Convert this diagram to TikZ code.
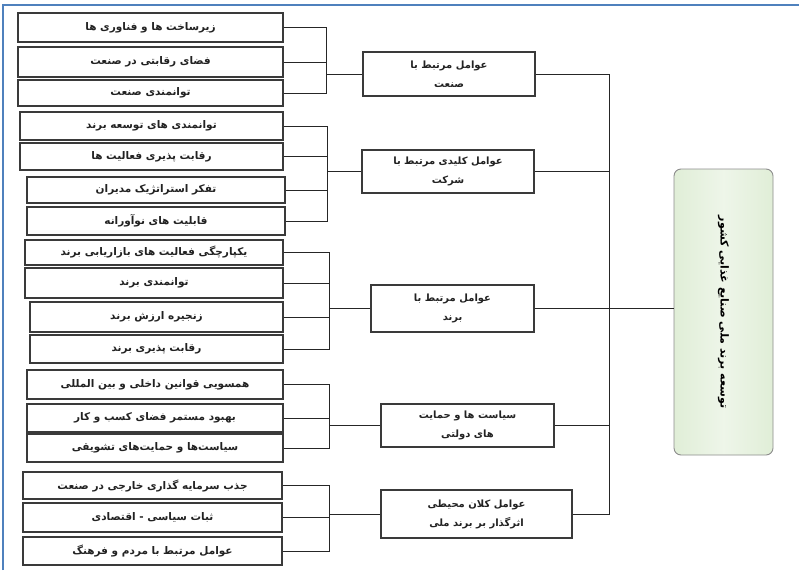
\documentclass[tikz,border=0pt]{standalone}
\usepackage{fontspec}
\newfontfamily\farsi[Script=Arabic]{DejaVu Sans}
\TeXXeTstate=1
\newcommand{\fa}[1]{\beginR #1\endR}
\definecolor{framblue}{HTML}{4F81BD}
\definecolor{boxline}{HTML}{3A3A3A}
\definecolor{txtgray}{HTML}{222222}
\definecolor{rgreen}{HTML}{E0EED7}
\tikzset{
  lbox/.style={draw=boxline, line width=1.1pt, fill=white, inner sep=0pt, text=txtgray, font=\farsi\bfseries\fontsize{10.5}{12}\selectfont},
  mbox/.style={draw=boxline, line width=1.1pt, fill=white, inner sep=0pt, text=txtgray, align=center, font=\farsi\bfseries\fontsize{10}{19}\selectfont},
  rbox/.style={draw=black!45, line width=0.9pt, rounded corners=7pt, inner sep=0pt, left color=rgreen, right color=rgreen, middle color=rgreen!55},
  conn/.style={draw=black!85, line width=0.8pt}
}
\begin{document}
\begin{tikzpicture}[x=1pt,y=-1pt]
\useasboundingbox (0,0) rectangle (799,570);
\fill[white] (0,0) rectangle (799,570);
% blue frame
\draw[framblue, line width=1.6pt] (3,570) -- (3,5) -- (799,5);

% group 1
\node[lbox, minimum width=265pt, minimum height=29pt] (a1) at (150.5,27.5) {\fa{زیرساخت ها و فناوری ها}};
\node[lbox, minimum width=265pt, minimum height=30pt] (a2) at (150.5,62) {\fa{فضای رقابتی در صنعت}};
\node[lbox, minimum width=265pt, minimum height=26pt] (a3) at (150.5,93) {\fa{توانمندی صنعت}};
\coordinate (ja) at (326,0);
\node[mbox, minimum width=172pt, minimum height=44pt] (m1) at (449,74) {\fa{عوامل مرتبط با}\\\fa{صنعت}};

% group 2
\node[lbox, minimum width=263pt, minimum height=28pt] (b1) at (151.5,126) {\fa{توانمندی های توسعه برند}};
\node[lbox, minimum width=263pt, minimum height=27pt] (b2) at (151.5,156.5) {\fa{رقابت پذیری فعالیت ها}};
\node[lbox, minimum width=258pt, minimum height=26pt] (b3) at (156,190) {\fa{تفکر استراتژیک مدیران}};
\node[lbox, minimum width=258pt, minimum height=28pt] (b4) at (156,221) {\fa{قابلیت های نوآورانه}};
\coordinate (jb) at (327,0);
\node[mbox, minimum width=172pt, minimum height=43pt] (m2) at (448,171.5) {\fa{عوامل کلیدی مرتبط با}\\\fa{شرکت}};

% group 3
\node[lbox, minimum width=258pt, minimum height=25pt] (c1) at (154,252.5) {\fa{یکپارچگی فعالیت های بازاریابی برند}};
\node[lbox, minimum width=258pt, minimum height=30pt] (c2) at (154,283) {\fa{توانمندی برند}};
\node[lbox, minimum width=253pt, minimum height=30pt] (c3) at (156.5,317) {\fa{زنجیره ارزش برند}};
\node[lbox, minimum width=253pt, minimum height=28pt] (c4) at (156.5,349) {\fa{رقابت پذیری برند}};
\coordinate (jc) at (329,0);
\node[mbox, minimum width=163pt, minimum height=47pt] (m3) at (452.5,308.5) {\fa{عوامل مرتبط با}\\\fa{برند}};

% group 4
\node[lbox, minimum width=256pt, minimum height=29pt] (d1) at (155,384.5) {\fa{همسویی قوانین داخلی و بین المللی}};
\node[lbox, minimum width=256pt, minimum height=28pt] (d2) at (155,418) {\fa{بهبود مستمر فضای کسب و کار}};
\node[lbox, minimum width=256pt, minimum height=28pt] (d3) at (155,448) {\fa{سیاست‌ها و حمایت‌های تشویقی}};
\coordinate (jd) at (329,0);
\node[mbox, minimum width=173pt, minimum height=43pt] (m4) at (467.5,425.5) {\fa{سیاست ها و حمایت}\\\fa{های دولتی}};

% group 5
\node[lbox, minimum width=259pt, minimum height=27pt] (e1) at (152.5,485.5) {\fa{جذب سرمایه گذاری خارجی در صنعت}};
\node[lbox, minimum width=259pt, minimum height=29pt] (e2) at (152.5,517.5) {\fa{ثبات سیاسی - اقتصادی}};
\node[lbox, minimum width=259pt, minimum height=28pt] (e3) at (152.5,551) {\fa{عوامل مرتبط با مردم و فرهنگ}};
\coordinate (je) at (329,0);
\node[mbox, minimum width=191pt, minimum height=48pt] (m5) at (476.5,514) {\fa{عوامل کلان محیطی}\\\fa{اثرگذار بر برند ملی}};

% right box
\node[rbox, minimum width=99pt, minimum height=286pt] (R) at (723.5,312) {};
\node[rotate=-90, font=\farsi\bfseries\fontsize{11}{13}\selectfont, text=black] (Rt) at (R.center) {\fa{توسعه برند ملی صنایع غذایی کشور}};
\coordinate (tr) at (609,0);

% connectors group 1
\draw[conn] (a1.east) -- (a1.east -| ja) -- (a3.east -| ja) -- (a3.east);
\draw[conn] (a2.east) -- (a2.east -| ja);
\draw[conn] (m1.west -| ja) -- (m1.west);
% group 2
\draw[conn] (b1.east) -- (b1.east -| jb) -- (b4.east -| jb) -- (b4.east);
\draw[conn] (b2.east) -- (b2.east -| jb);
\draw[conn] (b3.east) -- (b3.east -| jb);
\draw[conn] (m2.west -| jb) -- (m2.west);
% group 3
\draw[conn] (c1.east) -- (c1.east -| jc) -- (c4.east -| jc) -- (c4.east);
\draw[conn] (c2.east) -- (c2.east -| jc);
\draw[conn] (c3.east) -- (c3.east -| jc);
\draw[conn] (m3.west -| jc) -- (m3.west);
% group 4
\draw[conn] (d1.east) -- (d1.east -| jd) -- (d3.east -| jd) -- (d3.east);
\draw[conn] (d2.east) -- (d2.east -| jd);
\draw[conn] (m4.west -| jd) -- (m4.west);
% group 5
\draw[conn] (e1.east) -- (e1.east -| je) -- (e3.east -| je) -- (e3.east);
\draw[conn] (e2.east) -- (e2.east -| je);
\draw[conn] (m5.west -| je) -- (m5.west);
% trunk
\draw[conn] (m1.east) -- (m1.east -| tr) -- (m5.east -| tr) -- (m5.east);
\draw[conn] (m2.east) -- (m2.east -| tr);
\draw[conn] (m4.east) -- (m4.east -| tr);
\draw[conn] (m3.east) -- (m3.east -| R.west);
\end{tikzpicture}
\end{document}
